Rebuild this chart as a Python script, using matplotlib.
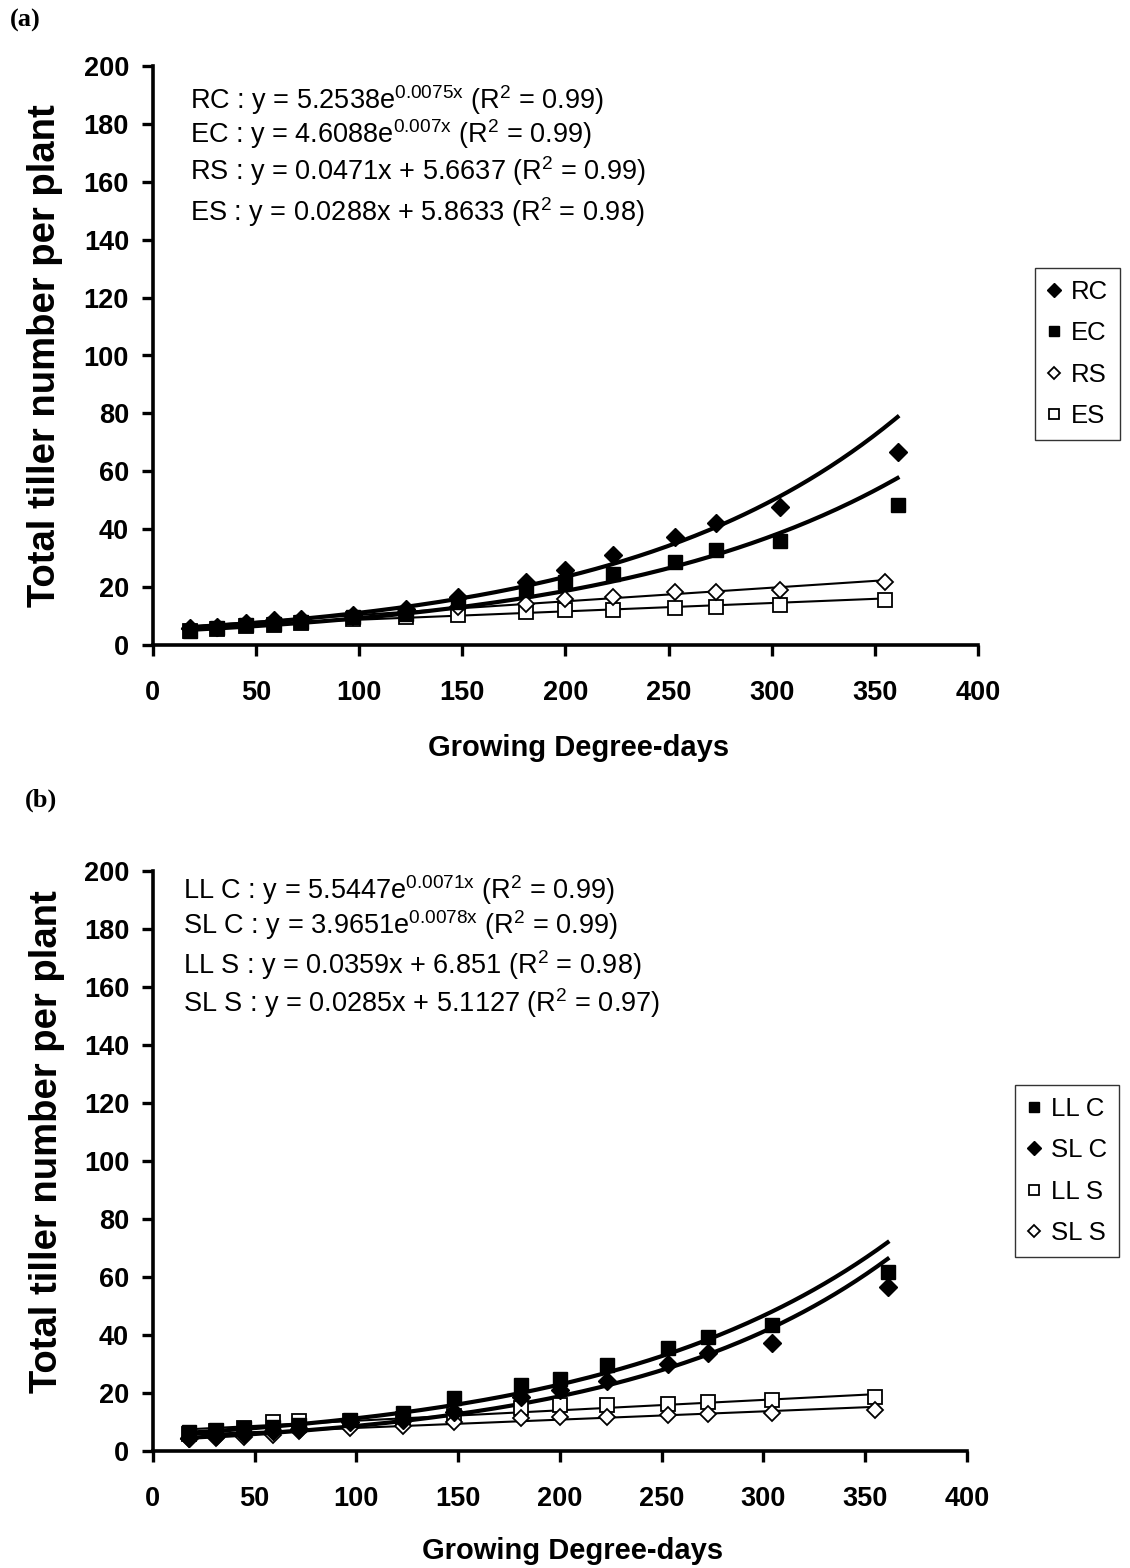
import numpy as np
import matplotlib
matplotlib.use("Agg")
import matplotlib.pyplot as plt

plt.rcParams["font.family"] = ["Liberation Sans", "DejaVu Sans"]
plt.rcParams["mathtext.fontset"] = "custom"
plt.rcParams["mathtext.rm"] = "Liberation Sans"
plt.rcParams["mathtext.it"] = "Liberation Sans"
plt.rcParams["mathtext.default"] = "regular"

# ---------------------------------------------------------------------------
# data (growing degree-days vs tiller number)
# ---------------------------------------------------------------------------
gdd_c = [18, 31, 45, 59, 72, 97, 123, 148, 181, 200, 223, 253, 273, 304, 361]
gdd_s = [18, 31, 45, 59, 72, 97, 123, 148, 181, 200, 223, 253, 273, 304, 355]

# panel (a)
rc = [5.8, 6.3, 7.6, 8.5, 9.0, 10.5, 12.5, 16.5, 21.8, 25.8, 31.0, 37.2, 42.3, 47.5, 66.8]
ec = [5.0, 5.8, 6.8, 7.2, 7.8, 9.5, 10.8, 15.0, 19.0, 21.8, 24.5, 28.8, 32.8, 36.0, 48.5]
rs = [5.5, 6.0, 7.3, 8.0, 8.5, 9.8, 11.5, 13.2, 14.2, 15.8, 16.7, 18.2, 18.4, 19.0, 21.9]
es = [5.0, 5.5, 6.5, 7.0, 7.5, 9.0, 9.8, 10.4, 11.5, 12.1, 12.2, 12.8, 13.2, 13.8, 15.5]

# panel (b)
llc = [6.5, 7.2, 7.9, 8.3, 8.8, 10.7, 13.0, 18.2, 22.8, 25.0, 29.7, 35.4, 39.4, 43.4, 61.8]
slc = [4.5, 5.2, 6.0, 6.8, 7.5, 10.0, 10.8, 13.6, 18.7, 21.0, 24.0, 30.0, 33.9, 37.1, 56.4]
lls = [6.0, 7.0, 8.0, 10.0, 10.5, 10.2, 11.0, 12.0, 14.8, 15.9, 15.9, 16.2, 17.0, 17.6, 18.5]
sls = [4.0, 4.5, 5.0, 5.5, 7.0, 8.0, 8.7, 9.9, 11.3, 11.8, 11.8, 12.4, 12.6, 13.1, 14.1]

# trendline coefficients as printed on the chart
exp_a = {"RC": (5.2538, 0.0075), "EC": (4.6088, 0.007)}
lin_a = {"RS": (0.0471, 5.6637), "ES": (0.0288, 5.8633)}
exp_b = {"LL C": (5.5447, 0.0071), "SL C": (3.9651, 0.0078)}
lin_b = {"LL S": (0.0359, 6.851), "SL S": (0.0285, 5.1127)}

eq_a = [r"RC : y = 5.2538e$^{0.0075x}$ (R$^2$ = 0.99)",
        r"EC : y = 4.6088e$^{0.007x}$ (R$^2$ = 0.99)",
        r"RS : y = 0.0471x + 5.6637 (R$^2$ = 0.99)",
        r"ES : y = 0.0288x + 5.8633 (R$^2$ = 0.98)"]
eq_b = [r"LL C : y = 5.5447e$^{0.0071x}$ (R$^2$ = 0.99)",
        r"SL C : y = 3.9651e$^{0.0078x}$ (R$^2$ = 0.99)",
        r"LL S : y = 0.0359x + 6.851 (R$^2$ = 0.98)",
        r"SL S : y = 0.0285x + 5.1127 (R$^2$ = 0.97)"]

W, H = 1130, 1568
fig = plt.figure(figsize=(W / 100, H / 100), dpi=100)


def px_axes(x0, x1, ytop, ybot):
    return fig.add_axes([x0 / W, 1 - ybot / H, (x1 - x0) / W, (ybot - ytop) / H])


def style(ax, ylab_y, xlab_y):
    ax.set_xlim(0, 400)
    ax.set_ylim(0, 200)
    ax.set_xticks(np.arange(0, 401, 50))
    ax.set_yticks(np.arange(0, 201, 20))
    for s in ["top", "right"]:
        ax.spines[s].set_visible(False)
    for s in ["left", "bottom"]:
        ax.spines[s].set_linewidth(2.6)
    ax.tick_params(axis="x", direction="out", length=8, width=2.4, pad=17, labelsize=19.5)
    ax.tick_params(axis="y", direction="out", length=8, width=2.4, pad=9, labelsize=19.5)
    for lab in ax.get_xticklabels() + ax.get_yticklabels():
        lab.set_fontweight("bold")
    ax.set_xlabel("Growing Degree-days", fontsize=21, fontweight="bold")
    ax.set_ylabel("Total tiller number per plant", fontsize=27.5, fontweight="bold")
    ax.xaxis.set_label_coords(0.516, xlab_y)
    ax.xaxis.label.set_va("center")
    ax.yaxis.set_label_coords(-0.13, ylab_y)
    ax.yaxis.label.set_va("center")


def exp_line(ax, x, coef):
    a, b = coef
    xx = np.linspace(min(x), max(x), 200)
    ax.plot(xx, a * np.exp(b * xx), color="black", lw=3.0, zorder=2)


def lin_line(ax, x, coef):
    m, c = coef
    xx = np.array([min(x), max(x)])
    ax.plot(xx, m * xx + c, color="black", lw=1.5, zorder=2)


mk = {
    "fd": dict(marker="D", ms=9.5, mfc="black", mec="black", mew=1),
    "fs": dict(marker="s", ms=10.5, mfc="black", mec="black", mew=1),
    "od": dict(marker="D", ms=8, mfc="white", mec="black", mew=1.3),
    "os": dict(marker="s", ms=9.5, mfc="white", mec="black", mew=1.3),
}

leg_kw = dict(loc="upper left", fontsize=18.5, frameon=True, fancybox=False,
              edgecolor="black", handlelength=0.6, handletextpad=0.35,
              labelspacing=0.68, borderpad=0.45, markerscale=0.75, borderaxespad=0)

# ---------------------------------------------------------------------------
# (a)
# ---------------------------------------------------------------------------
ax = px_axes(152.7, 978, 66, 645)
style(ax, 0.50, -0.178)
exp_line(ax, gdd_c, exp_a["RC"])
exp_line(ax, gdd_c, exp_a["EC"])
lin_line(ax, gdd_s, lin_a["RS"])
lin_line(ax, gdd_s, lin_a["ES"])
h1 = ax.plot(gdd_s, es, ls="none", label="ES", zorder=3, clip_on=False, **mk["os"])[0]
h2 = ax.plot(gdd_s, rs, ls="none", label="RS", zorder=3, clip_on=False, **mk["od"])[0]
h3 = ax.plot(gdd_c, ec, ls="none", label="EC", zorder=4, clip_on=False, **mk["fs"])[0]
h4 = ax.plot(gdd_c, rc, ls="none", label="RC", zorder=4, clip_on=False, **mk["fd"])[0]
for t, yy in zip(eq_a, [100, 134, 171, 212]):
    fig.text(190 / W, 1 - yy / H, t, fontsize=19.5, va="center", ha="left")
leg = fig.legend([h4, h3, h2, h1], ["RC", "EC", "RS", "ES"],
                 bbox_to_anchor=(1035 / W, 1 - 268 / H), **leg_kw)
leg.get_frame().set_linewidth(1.0)
fig.text(10 / W, 1 - 20 / H, "(a)", fontsize=19, fontweight="bold",
         family="Liberation Serif", va="center", ha="left")

# ---------------------------------------------------------------------------
# (b)
# ---------------------------------------------------------------------------
ax = px_axes(152.8, 967, 871, 1451)
style(ax, 0.533, -0.172)
exp_line(ax, gdd_c, exp_b["LL C"])
exp_line(ax, gdd_c, exp_b["SL C"])
lin_line(ax, gdd_s, lin_b["LL S"])
lin_line(ax, gdd_s, lin_b["SL S"])
g1 = ax.plot(gdd_s, lls, ls="none", label="LL S", zorder=3, clip_on=False, **mk["os"])[0]
g2 = ax.plot(gdd_s, sls, ls="none", label="SL S", zorder=3, clip_on=False, **mk["od"])[0]
g3 = ax.plot(gdd_c, llc, ls="none", label="LL C", zorder=4, clip_on=False, **mk["fs"])[0]
g4 = ax.plot(gdd_c, slc, ls="none", label="SL C", zorder=4, clip_on=False, **mk["fd"])[0]
for t, yy in zip(eq_b, [890, 925, 965, 1003]):
    fig.text(183 / W, 1 - yy / H, t, fontsize=19.5, va="center", ha="left")
leg = fig.legend([g3, g4, g1, g2], ["LL C", "SL C", "LL S", "SL S"],
                 bbox_to_anchor=(1015 / W, 1 - 1085 / H), **leg_kw)
leg.get_frame().set_linewidth(1.0)
fig.text(25 / W, 1 - 800 / H, "(b)", fontsize=19, fontweight="bold",
         family="Liberation Serif", va="center", ha="left")

fig.savefig("out.png", dpi=100)
